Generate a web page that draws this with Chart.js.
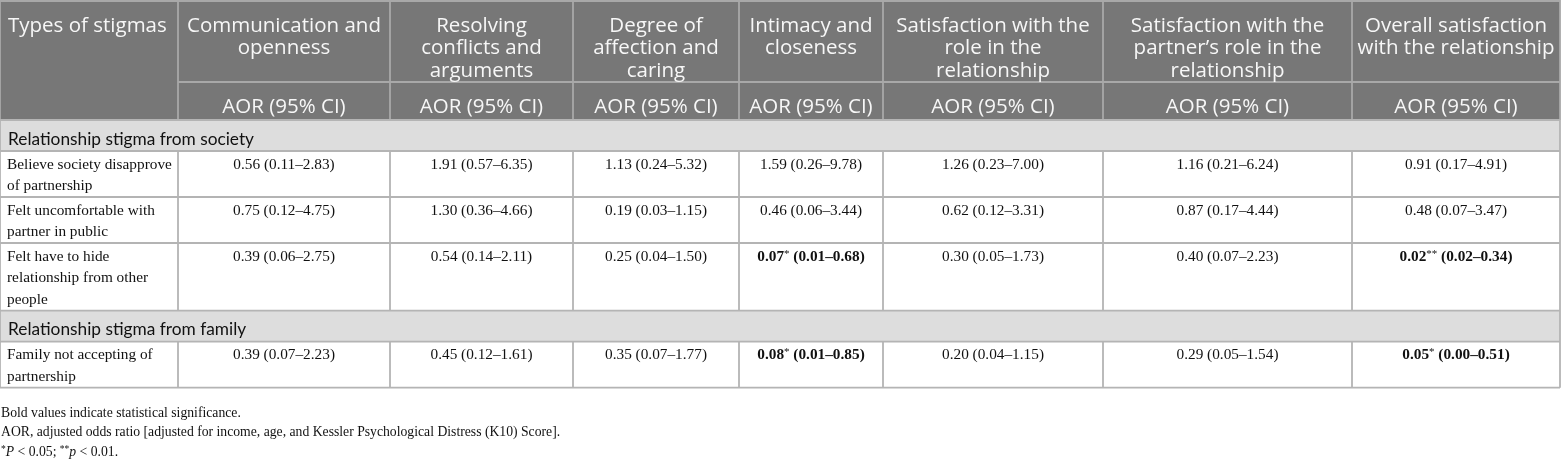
<!DOCTYPE html>
<html>
<head>
<meta charset="utf-8">
<script src="https://cdn.jsdelivr.net/npm/chart.js@4.4.1/dist/chart.umd.min.js"></script>
<style>
html, body { margin: 0; padding: 0; background: #fff; }
#wrap { width: 1561px; height: 460px; position: relative; }
</style>
</head>
<body>
<div id="wrap"><canvas id="table"></canvas></div>
<script>
// Table text and values
const stubTitle = 'Types of stigmas';
const outcomes = [
    'Communication and\nopenness',
    'Resolving\nconflicts and\narguments',
    'Degree of\naffection and\ncaring',
    'Intimacy and\ncloseness',
    'Satisfaction with the\nrole in the\nrelationship',
    'Satisfaction with the\npartner\u2019s role in the\nrelationship',
    'Overall satisfaction\nwith the relationship'
];
const subHeader = 'AOR (95% CI)';
const sections = ['Relationship stigma from society', 'Relationship stigma from family'];
const rowLabels = [
    'Believe society disapprove\nof partnership',
    'Felt uncomfortable with\npartner in public',
    'Felt have to hide\nrelationship from other\npeople',
    'Family not accepting of\npartnership'
];
const rowSection = [0, 0, 0, 1];
const aor = [
    [0.56, 1.91, 1.13, 1.59, 1.26, 1.16, 0.91],
    [0.75, 1.30, 0.19, 0.46, 0.62, 0.87, 0.48],
    [0.39, 0.54, 0.25, 0.07, 0.30, 0.40, 0.02],
    [0.39, 0.45, 0.35, 0.08, 0.20, 0.29, 0.05]
];
const ciLow = [
    [0.11, 0.57, 0.24, 0.26, 0.23, 0.21, 0.17],
    [0.12, 0.36, 0.03, 0.06, 0.12, 0.17, 0.07],
    [0.06, 0.14, 0.04, 0.01, 0.05, 0.07, 0.02],
    [0.07, 0.12, 0.07, 0.01, 0.04, 0.05, 0.00]
];
const ciHigh = [
    [2.83, 6.35, 5.32, 9.78, 7.00, 6.24, 4.91],
    [4.75, 4.66, 1.15, 3.44, 3.31, 4.44, 3.47],
    [2.75, 2.11, 1.50, 0.68, 1.73, 2.23, 0.34],
    [2.23, 1.61, 1.77, 0.85, 1.15, 1.54, 0.51]
];
const stars = [
    ['', '', '', '', '', '', ''],
    ['', '', '', '', '', '', ''],
    ['', '', '', '*', '', '', '**'],
    ['', '', '', '*', '', '', '*']
];
// footnote runs: s = superscript, i = italic
const footnotes = [
    [{ t: 'Bold values indicate statistical significance.' }],
    [{ t: 'AOR, adjusted odds ratio [adjusted for income, age, and Kessler Psychological Distress (K10) Score].' }],
    [{ t: '*', s: true }, { t: 'P', i: true }, { t: ' < 0.05; ' }, { t: '**', s: true }, { t: 'p', i: true }, { t: ' < 0.01.' }]
];

// Layout (in table units, mapped through the chart scales)
const colEdges = [0, 178, 390, 573, 739, 883, 1103, 1352, 1560];
const headTop = 1, headH1 = 81, headH2 = 38, sectionH = 31, lineH = 21.7, cellPad = 2.6;
const headFont = '20.5px "Open Sans"';
const sectionFont = '17.3px Lato';
const bodyFont = '15.3px "Liberation Serif"';
const boldFont = 'bold 15.3px "Liberation Serif"';
const supFont = '11px "Liberation Serif"';
const noteFont = '13.7px "Liberation Serif"';
const noteItalic = 'italic 13.7px "Liberation Serif"';
const noteSup = '9.5px "Liberation Serif"';

function buildRows() {
    const rows = [];
    let y = headTop + headH1 + headH2;
    sections.forEach((name, s) => {
        rows.push({ kind: 'section', s: s, top: y, h: sectionH });
        y += sectionH;
        rowLabels.forEach((label, r) => {
            if (rowSection[r] !== s) return;
            const h = label.split('\n').length * lineH + cellPad;
            rows.push({ kind: 'data', r: r, top: y, h: h });
            y += h;
        });
    });
    return { rows: rows, bottom: y };
}

// draw a list of text runs starting at x (or centred on x)
function drawRuns(ctx, runs, x, y, align) {
    let total = 0;
    runs.forEach(run => { ctx.font = run.font; total += ctx.measureText(run.t).width; });
    let cx = align === 'center' ? x - total / 2 : x;
    ctx.textAlign = 'left';
    runs.forEach(run => {
        ctx.font = run.font;
        ctx.fillText(run.t, cx, y + (run.dy || 0));
        cx += ctx.measureText(run.t).width;
    });
}

function valueRuns(r, c) {
    const star = stars[r][c];
    const ci = ' (' + ciLow[r][c].toFixed(2) + '\u2013' + ciHigh[r][c].toFixed(2) + ')';
    if (!star) return [{ t: aor[r][c].toFixed(2) + ci, font: bodyFont }];
    return [
        { t: aor[r][c].toFixed(2), font: boldFont },
        { t: star, font: supFont, dy: -4 },
        { t: ci, font: boldFont }
    ];
}

const tablePlugin = {
    id: 'tablePlugin',
    afterDraw(chart) {
        const ctx = chart.ctx;
        const X = v => chart.scales.x.getPixelForValue(v);
        const Y = v => chart.scales.y.getPixelForValue(v);
        const layout = buildRows();
        const left = colEdges[0], right = colEdges[colEdges.length - 1];
        const headBottom = headTop + headH1 + headH2;

        ctx.save();
        ctx.textBaseline = 'alphabetic';

        // header block
        ctx.fillStyle = '#777777';
        ctx.fillRect(X(left), Y(0), X(right) - X(left), Y(headBottom) - Y(0));
        ctx.strokeStyle = '#a8a8a8';
        ctx.lineWidth = 1.8;
        ctx.beginPath();
        ctx.moveTo(X(left), Y(headTop)); ctx.lineTo(X(right), Y(headTop));
        ctx.moveTo(X(colEdges[1]), Y(headTop + headH1)); ctx.lineTo(X(right), Y(headTop + headH1));
        colEdges.forEach(e => { ctx.moveTo(X(e), Y(0)); ctx.lineTo(X(e), Y(headBottom)); });
        ctx.stroke();

        ctx.fillStyle = '#f7f7f7';
        ctx.font = headFont;
        ctx.textAlign = 'left';
        ctx.fillText(stubTitle, X(left + 8), Y(headTop + 30.5));
        ctx.textAlign = 'center';
        outcomes.forEach((name, c) => {
            const mid = (colEdges[c + 1] + colEdges[c + 2]) / 2;
            name.split('\n').forEach((line, i) => {
                ctx.fillText(line, X(mid), Y(headTop + 30.5 + i * 22.5));
            });
            ctx.fillText(subHeader, X(mid), Y(headTop + headH1 + 31));
        });

        // body rows
        layout.rows.forEach(row => {
            if (row.kind === 'section') {
                ctx.fillStyle = '#dddddd';
                ctx.fillRect(X(left), Y(row.top), X(right) - X(left), Y(row.top + row.h) - Y(row.top));
                ctx.fillStyle = '#111111';
                ctx.font = sectionFont;
                ctx.textAlign = 'left';
                ctx.fillText(sections[row.s], X(left + 8), Y(row.top + 24.5));
            } else {
                ctx.fillStyle = '#111111';
                ctx.font = bodyFont;
                ctx.textAlign = 'left';
                rowLabels[row.r].split('\n').forEach((line, i) => {
                    ctx.fillText(line, X(left + 7), Y(row.top + 17.5 + i * lineH));
                });
                aor[row.r].forEach((v, c) => {
                    const mid = (colEdges[c + 1] + colEdges[c + 2]) / 2;
                    drawRuns(ctx, valueRuns(row.r, c), X(mid), Y(row.top + 17.5), 'center');
                });
            }
        });

        // body grid
        ctx.strokeStyle = '#b4b4b4';
        ctx.lineWidth = 1.8;
        ctx.beginPath();
        layout.rows.forEach(row => {
            ctx.moveTo(X(left), Y(row.top)); ctx.lineTo(X(right), Y(row.top));
            const edges = row.kind === 'section' ? [left, right] : colEdges;
            edges.forEach(e => { ctx.moveTo(X(e), Y(row.top)); ctx.lineTo(X(e), Y(row.top + row.h)); });
        });
        ctx.moveTo(X(left), Y(layout.bottom)); ctx.lineTo(X(right), Y(layout.bottom));
        ctx.stroke();

        // footnotes
        ctx.fillStyle = '#111111';
        footnotes.forEach((runs, i) => {
            const styled = runs.map(run => ({
                t: run.t,
                font: run.s ? noteSup : (run.i ? noteItalic : noteFont),
                dy: run.s ? -4 : 0
            }));
            drawRuns(ctx, styled, X(left + 1), Y(layout.bottom + 29 + i * 19.5), 'left');
        });
        ctx.restore();
    }
};

function build() {
    new Chart(document.getElementById('table'), {
        type: 'scatter',
        data: { datasets: [] },
        options: {
            responsive: true,
            maintainAspectRatio: false,
            animation: false,
            layout: { padding: 0 },
            plugins: {
                legend: { display: false },
                tooltip: { enabled: false }
            },
            scales: {
                x: { type: 'linear', min: 0, max: 1561, display: false },
                y: { type: 'linear', min: 0, max: 460, reverse: true, display: false }
            }
        },
        plugins: [tablePlugin]
    });
}

const fontList = [headFont, sectionFont, bodyFont, boldFont, noteItalic];
Promise.all(fontList.map(f => document.fonts.load(f))).then(build, build);
</script>
</body>
</html>
